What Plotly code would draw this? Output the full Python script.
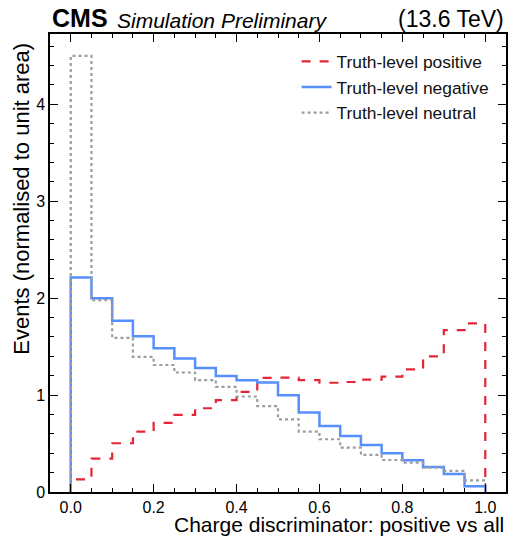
import plotly.graph_objects as go

# ---- data (20 bins of width 0.05) ----
bin_edges = [round(i * 0.05, 2) for i in range(21)]

positive = [0.131, 0.344, 0.503, 0.623, 0.713, 0.795, 0.864, 0.947, 1.033, 1.177,
            1.179, 1.155, 1.127, 1.135, 1.160, 1.190, 1.265, 1.400, 1.670, 1.740]
negative = [2.214, 2.000, 1.767, 1.608, 1.484, 1.377, 1.278, 1.198, 1.154, 1.129,
            0.999, 0.820, 0.682, 0.578, 0.486, 0.400, 0.327, 0.258, 0.186, 0.059]
neutral = [4.500, 1.980, 1.590, 1.395, 1.310, 1.233, 1.154, 1.085, 0.985, 0.885,
           0.750, 0.623, 0.544, 0.458, 0.382, 0.330, 0.303, 0.251, 0.217, 0.120]

series_names = ["Truth-level positive", "Truth-level negative", "Truth-level neutral"]


def step_outline(edges, values):
    xs, ys = [edges[0]], [0]
    for i, v in enumerate(values):
        xs += [edges[i], edges[i + 1]]
        ys += [v, v]
    xs.append(edges[-1])
    ys.append(0)
    return xs, ys


FONT = "Liberation Sans, Arial, sans-serif"
fig = go.Figure()
styles = [
    dict(color="#e42536", dash="dash", width=2.2),
    dict(color="#5790fc", dash="solid", width=2.5),
    dict(color="#9c9ca1", dash="dot", width=2.2),
]
for name, vals, st in zip(series_names, [positive, negative, neutral], styles):
    xs, ys = step_outline(bin_edges, vals)
    fig.add_trace(go.Scatter(x=xs, y=ys, mode="lines", name=name,
                             line=dict(color=st["color"], dash=st["dash"], width=st["width"])))

axis_common = dict(
    showline=True, linecolor="black", linewidth=1.5, mirror="allticks",
    ticks="inside", ticklen=8, tickwidth=1, tickcolor="black",
    showgrid=False, zeroline=False,
    tickfont=dict(family=FONT, size=16, color="black"),
)

fig.update_layout(
    width=510, height=538,
    margin=dict(l=50, r=2, t=34, b=46),
    paper_bgcolor="white", plot_bgcolor="white",
    font=dict(family=FONT, color="black"),
    showlegend=True,
    legend=dict(x=0.975, y=0.979, xanchor="right", yanchor="top",
                bgcolor="rgba(0,0,0,0)", font=dict(family=FONT, size=17.4, color="#111"),
                itemwidth=30, tracegroupgap=0),
    xaxis=dict(range=[-0.05, 1.05], tickmode="linear", tick0=0, dtick=0.2, tickformat=".1f",
               minor=dict(dtick=0.05, tick0=0, ticks="inside", ticklen=4.5, tickcolor="black"),
               **axis_common),
    yaxis=dict(range=[0, 4.725], tickmode="linear", tick0=0, dtick=1,
               minor=dict(dtick=0.2, tick0=0, ticks="inside", ticklen=4.5, tickcolor="black"),
               **axis_common),
)

fig.add_annotation(xref="paper", yref="paper", x=1.0, y=-0.0705, xanchor="right", yanchor="middle",
                   text="Charge discriminator: positive vs all", showarrow=False,
                   font=dict(family=FONT, size=21, color="black"))
fig.add_annotation(xref="paper", yref="paper", x=-0.03, y=0.985, xanchor="right", yanchor="top",
                   text="Events (normalised to unit area)", showarrow=False, textangle=-90,
                   font=dict(family=FONT, size=22, color="black"))
fig.add_annotation(xref="paper", yref="paper", x=0.0, y=1.0, xanchor="left", yanchor="bottom",
                   text="<b>CMS</b>",
                   showarrow=False, font=dict(family=FONT, size=25, color="black"))
fig.add_annotation(xref="paper", yref="paper", x=0.142, y=1.0, xanchor="left", yanchor="bottom",
                   text="<i>Simulation Preliminary</i>",
                   showarrow=False, font=dict(family=FONT, size=21, color="black"))
fig.add_annotation(xref="paper", yref="paper", x=1.0, y=1.0, xanchor="right", yanchor="bottom",
                   text="(13.6 TeV)", showarrow=False, font=dict(family=FONT, size=23, color="black"))

fig.write_html("out.html", config={"displayModeBar": False},
               post_script="document.body.style.margin='0';")
